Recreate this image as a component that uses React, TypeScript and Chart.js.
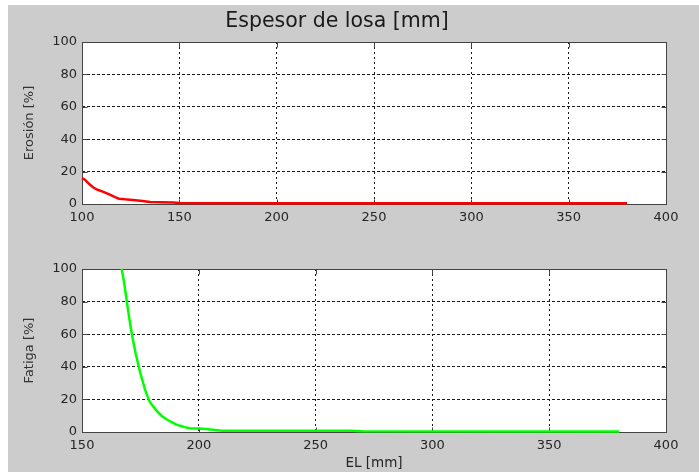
import React, { useEffect, useRef } from "react";
import { Chart, registerables } from "chart.js";

Chart.register(...registerables);

// ---- data ----
const erosionX = [100, 101.5, 104, 106, 108, 111, 114, 117, 119, 122, 126, 130, 135, 140, 147, 150, 200, 250, 300, 350, 380];
const erosionY = [16, 15, 12, 10, 8.8, 7.5, 6, 4.3, 3.3, 2.9, 2.5, 2.0, 1.3, 1.1, 0.9, 0.6, 0.5, 0.5, 0.5, 0.5, 0.5];

const fatigaX = [167, 168, 169, 170, 171, 172, 173, 174, 175, 176, 177, 178, 179, 180, 182, 184, 186, 188, 190, 192, 194, 196, 198, 200, 203, 207, 210, 265, 270, 380];
const fatigaY = [100, 92, 82, 72, 63, 55, 48, 42, 36, 31, 26, 22, 18.6, 16.5, 13, 10, 8, 6.3, 4.8, 3.8, 3, 2.3, 2.1, 2.1, 1.8, 1.2, 0.8, 0.7, 0.4, 0.3];

const topXTicks = [100, 150, 200, 250, 300, 350, 400];
const bottomXTicks = [150, 200, 250, 300, 350, 400];
const yTicks = [0, 20, 40, 60, 80, 100];

const titleText = "Espesor de losa [mm]";
const erosionLabel = "Erosión [%]";
const fatigaLabel = "Fatiga [%]";
const xLabel = "EL [mm]";

const FONT = "'DejaVu Sans', sans-serif";
const BG = "#cccccc";
const TEXT = "#262626";
const AXIS = "#444444";

const boxPlugin = {
  id: "matlabBox",
  beforeDraw(chart: any) {
    const { ctx, chartArea: a } = chart;
    ctx.save();
    ctx.fillStyle = "#ffffff";
    ctx.fillRect(a.left, a.top, a.right - a.left, a.bottom - a.top);
    ctx.restore();
  },
  beforeDatasetsDraw(chart: any) {
    const { ctx, chartArea: a, scales } = chart;
    ctx.save();
    ctx.strokeStyle = AXIS;
    ctx.lineWidth = 1;
    const L = Math.round(a.left) + 0.5;
    const R = Math.round(a.right) + 0.5;
    const T = Math.round(a.top) + 0.5;
    const B = Math.round(a.bottom) + 0.5;
    ctx.strokeRect(L, T, R - L, B - T);
    const tl = 5;
    ctx.beginPath();
    scales.x.ticks.forEach((t: any) => {
      const px = Math.round(scales.x.getPixelForValue(t.value)) + 0.5;
      ctx.moveTo(px, B);
      ctx.lineTo(px, B - tl);
      ctx.moveTo(px, T);
      ctx.lineTo(px, T + tl);
    });
    scales.y.ticks.forEach((t: any) => {
      const py = Math.round(scales.y.getPixelForValue(t.value)) + 0.5;
      ctx.moveTo(L, py);
      ctx.lineTo(L + tl, py);
      ctx.moveTo(R, py);
      ctx.lineTo(R - tl, py);
    });
    ctx.stroke();
    ctx.restore();
  },
};

function makeOptions(opts: {
  xMin: number;
  xMax: number;
  xTicks: number[];
  yLabel: string;
  title?: string;
  xTitle?: string;
  padTop: number;
  xHeight: number;
}) {
  const xt = opts.xTicks;
  return {
    responsive: false,
    animation: false as const,
    devicePixelRatio: 1,
    layout: { padding: { top: opts.padTop, left: 0, right: 33, bottom: 0 } },
    plugins: {
      legend: { display: false },
      tooltip: { enabled: false },
      title: opts.title
        ? {
            display: true,
            text: opts.title,
            color: "#1a1a1a",
            font: { family: FONT, size: 20.5, weight: "normal" as const },
            padding: { top: 4, bottom: 8.4 },
          }
        : { display: false },
    },
    elements: { point: { radius: 0 } },
    scales: {
      x: {
        type: "linear" as const,
        min: opts.xMin,
        max: opts.xMax,
        afterBuildTicks: (s: any) => {
          s.ticks = xt.map((v) => ({ value: v }));
        },
        afterFit: (s: any) => {
          s.height = opts.xHeight;
        },
        ticks: {
          color: TEXT,
          font: { family: FONT, size: 13 },
          padding: 6,
          maxRotation: 0,
          autoSkip: false,
          callback: (v: any) => String(v),
        },
        grid: {
          drawTicks: false,
          color: (c: any) =>
            c.index === 0 || c.index === xt.length - 1 ? "rgba(0,0,0,0)" : "#1a1a1a",
          lineWidth: 1,
        },
        border: { display: false, dash: [2, 3] },
        title: opts.xTitle
          ? {
              display: true,
              text: opts.xTitle,
              color: TEXT,
              font: { family: FONT, size: 13.5 },
              padding: { top: 0, bottom: 0 },
            }
          : { display: false },
      },
      y: {
        type: "linear" as const,
        min: 0,
        max: 100,
        afterBuildTicks: (s: any) => {
          s.ticks = yTicks.map((v) => ({ value: v }));
        },
        afterFit: (s: any) => {
          s.width = 74;
        },
        ticks: {
          color: TEXT,
          font: { family: FONT, size: 13 },
          padding: 5,
          autoSkip: false,
          callback: (v: any) => String(v),
        },
        grid: {
          drawTicks: false,
          color: (c: any) =>
            c.index === 0 || c.index === yTicks.length - 1 ? "rgba(0,0,0,0)" : "#1a1a1a",
          lineWidth: 1,
        },
        border: { display: false, dash: [3, 2] },
        title: {
          display: true,
          text: opts.yLabel,
          color: "#333333",
          font: { family: FONT, size: 13 },
          padding: { top: 14, bottom: 0 },
        },
      },
    },
  };
}

function toPoints(xs: number[], ys: number[]) {
  return xs.map((x, i) => ({ x, y: ys[i] }));
}

export default function App() {
  const topRef = useRef<HTMLCanvasElement | null>(null);
  const botRef = useRef<HTMLCanvasElement | null>(null);

  useEffect(() => {
    const top = new Chart(topRef.current as HTMLCanvasElement, {
      type: "line",
      data: {
        datasets: [
          {
            data: toPoints(erosionX, erosionY),
            borderColor: "#ff0000",
            borderWidth: 2.5,
            pointRadius: 0,
            tension: 0,
            clip: false as any,
          },
        ],
      },
      options: makeOptions({
        xMin: 100,
        xMax: 400,
        xTicks: topXTicks,
        yLabel: erosionLabel,
        title: titleText,
        padTop: 0,
        xHeight: 31,
      }) as any,
      plugins: [boxPlugin],
    });
    const bot = new Chart(botRef.current as HTMLCanvasElement, {
      type: "line",
      data: {
        datasets: [
          {
            data: toPoints(fatigaX, fatigaY),
            borderColor: "#00ff00",
            borderWidth: 2.5,
            pointRadius: 0,
            tension: 0,
            clip: false as any,
          },
        ],
      },
      options: makeOptions({
        xMin: 150,
        xMax: 400,
        xTicks: bottomXTicks,
        yLabel: fatigaLabel,
        xTitle: xLabel,
        padTop: 34,
        xHeight: 40,
      }) as any,
      plugins: [boxPlugin],
    });
    return () => {
      top.destroy();
      bot.destroy();
    };
  }, []);

  return (
    <div
      style={{
        position: "fixed",
        left: 8,
        top: 5,
        width: 691,
        height: 467,
        background: BG,
        overflow: "hidden",
      }}
    >
      <canvas
        ref={topRef}
        width={691}
        height={230}
        style={{ position: "absolute", left: 0, top: 0, width: 691, height: 230 }}
      />
      <canvas
        ref={botRef}
        width={691}
        height={237}
        style={{ position: "absolute", left: 0, top: 230, width: 691, height: 237 }}
      />
    </div>
  );
}
